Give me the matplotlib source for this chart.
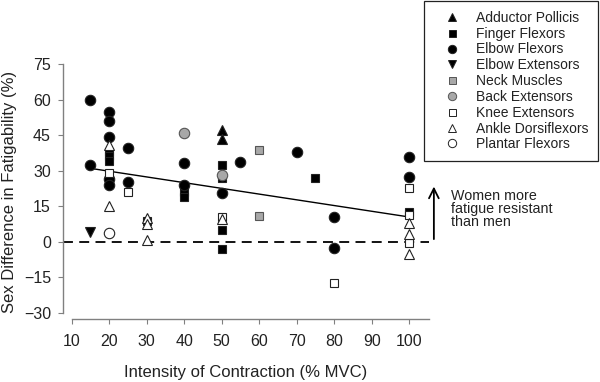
import matplotlib
matplotlib.use("Agg")
import matplotlib.pyplot as plt
from matplotlib.lines import Line2D

plt.rcParams['font.family'] = ['Liberation Sans', 'DejaVu Sans']

# ---- data ----
categories = ["Adductor Pollicis", "Finger Flexors", "Elbow Flexors", "Elbow Extensors",
              "Neck Muscles", "Back Extensors", "Knee Extensors", "Ankle Dorsiflexors",
              "Plantar Flexors"]

adductor_x = [50, 50]
adductor_y = [47, 43.3]

finger_x = [20, 20, 20, 30, 40, 40, 50, 50, 50, 50, 75, 100]
finger_y = [38, 36, 34, 9, 21.2, 19.1, 32.5, 27, 5.1, -3.1, 26.9, 12.4]

elbowf_x = [15, 15, 20, 20, 20, 20, 20, 25, 25, 40, 40, 50, 55, 70, 80, 80, 100, 100]
elbowf_y = [60, 32.5, 54.6, 50.8, 44.2, 26.7, 24, 39.5, 25.2, 33.2, 24, 20.8, 33.6, 37.8,
            10.7, -2.7, 35.7, 27.3]

elbowe_x = [15]
elbowe_y = [4]

neck_x = [60, 60]
neck_y = [38.8, 11]

back_x = [40, 50]
back_y = [45.9, 28.3]

knee_x = [20, 25, 50, 80, 100, 100, 100]
knee_y = [29, 21, 10.7, -17.4, 22.7, 11.4, -0.5]

ankle_x = [20, 20, 30, 30, 30, 50, 100, 100, 100]
ankle_y = [41, 15, 10, 7.5, 1, 9.5, 8, 3.4, -5.2]

plantar_x = [20]
plantar_y = [3.7]

trend_x = [15, 100]
trend_y = [31, 10.5]

x_ticks = [10, 20, 30, 40, 50, 60, 70, 80, 90, 100]
y_ticks = [-30, -15, 0, 15, 30, 45, 60, 75]

# ---- styles ----
series = [
    (adductor_x, adductor_y, '^', 'black', 7.5),
    (finger_x, finger_y, 's', 'black', 6.3),
    (elbowf_x, elbowf_y, 'o', 'black', 7.5),
    (elbowe_x, elbowe_y, 'v', 'black', 7.5),
    (neck_x, neck_y, 's', '#a8a8a8', 6.3),
    (back_x, back_y, 'o', '#a8a8a8', 7.5),
    (knee_x, knee_y, 's', 'white', 6.3),
    (ankle_x, ankle_y, '^', 'white', 7.5),
    (plantar_x, plantar_y, 'o', 'white', 7.5),
]

fig = plt.figure(figsize=(6.0, 3.82), dpi=100)
ax = fig.add_axes([0.1045, 0.165, 0.6105, 0.6675])

ax.set_xlim(7.6, 105.3)
ax.set_ylim(-32.5, 75)

ax.axhline(0, color='black', lw=1.3, ls=(0, (5.5, 3.5)), zorder=1)
ax.plot(trend_x, trend_y, color='black', lw=1.0, zorder=2)

for i, (xs, ys, m, c, ms) in enumerate(series):
    edge = '#222222' if c != '#a8a8a8' else '#555555'
    ax.plot(xs, ys, ls='none', marker=m, markersize=ms, markerfacecolor=c,
            markeredgecolor=edge, markeredgewidth=0.8, zorder=3 + i * 0.1,
            clip_on=False)

for s in ['top', 'right']:
    ax.spines[s].set_visible(False)
ax.spines['left'].set_bounds(-30, 75)
ax.spines['bottom'].set_bounds(10, 105.3)
for s in ['left', 'bottom']:
    ax.spines[s].set_color('#808080')
    ax.spines[s].set_linewidth(1.0)

ax.set_xticks(x_ticks)
ax.set_yticks(y_ticks)
ax.tick_params(axis='both', direction='out', length=3.5, width=0.8, color='#808080',
               labelsize=11.5, labelcolor='#222222')
ax.tick_params(axis='x', pad=7)
ax.tick_params(axis='y', pad=5)

ax.set_xlabel('Intensity of Contraction (% MVC)', fontsize=12, color='#222222', labelpad=12)
ax.set_ylabel('Sex Difference in Fatigability (%)', fontsize=12, color='#222222', labelpad=5)

# legend
handles = []
for (xs, ys, m, c, ms) in series:
    edge = '#222222' if c != '#a8a8a8' else '#555555'
    handles.append(Line2D([], [], ls='none', marker=m, markersize=ms * 0.8,
                          markerfacecolor=c, markeredgecolor=edge, markeredgewidth=0.7))
leg = fig.legend(handles, categories, loc='upper right', bbox_to_anchor=(0.997, 0.997),
                 frameon=True, fancybox=False, fontsize=10, labelspacing=0.13,
                 handletextpad=0.45, borderpad=0.7, borderaxespad=0, handlelength=2.6,
                 edgecolor='#222222', framealpha=1)
leg.get_frame().set_linewidth(0.9)
for t in leg.get_texts():
    t.set_color('#222222')

# annotation arrow and text
ax.annotate('', xy=(106.6, 24.5), xytext=(106.6, 0),
            arrowprops=dict(arrowstyle='->,head_length=0.7,head_width=0.35', color='black', lw=1.3),
            annotation_clip=False)
fig.text(451 / 600, 1 - 209 / 382, 'Women more\nfatigue resistant\nthan men', fontsize=10.3,
         color='#222222', va='center', ha='left', linespacing=0.95)

fig.savefig('out.png', dpi=100)
